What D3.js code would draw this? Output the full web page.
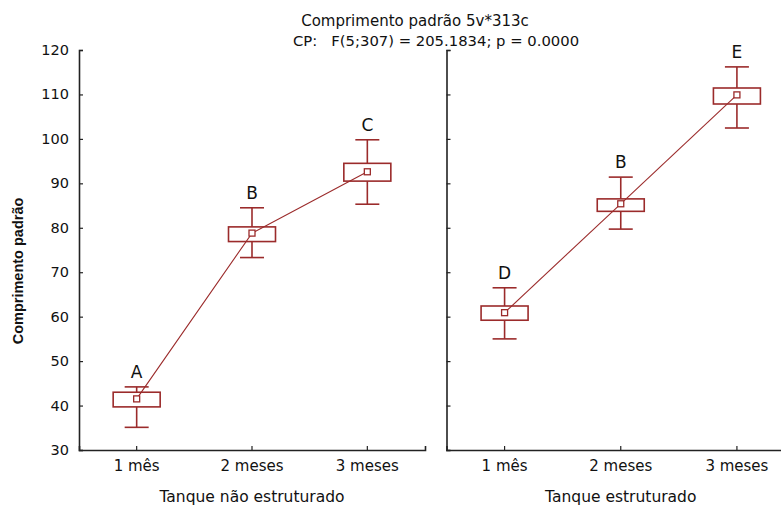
<!DOCTYPE html>
<html>
<head>
<meta charset="utf-8">
<script src="https://cdn.jsdelivr.net/npm/d3@7.9.0/dist/d3.min.js"></script>
<style>
  body { margin: 0; background: #fff; }
  svg { display: block; }
  text { font-family: "DejaVu Sans", sans-serif; fill: #111; }
</style>
</head>
<body>
<svg id="chart" width="781" height="506"></svg>
<script>
// data
const panels = ['Tanque não estruturado', 'Tanque estruturado'];
const months = ['1 mês', '2 meses', '3 meses'];
const means = [[41.5, 78.8, 92.6], [60.9, 85.4, 109.9]];
const boxLow = [[39.7, 76.9, 90.5], [59.2, 83.7, 107.85]];
const boxHigh = [[43.0, 80.2, 94.5], [62.4, 86.5, 111.45]];
const whiskLow = [[35.1, 73.3, 85.3], [55.0, 79.7, 102.45]];
const whiskHigh = [[44.2, 84.5, 99.8], [66.5, 91.4, 116.2]];
const letters = [['A', 'B', 'C'], ['D', 'B', 'E']];
const yTicks = [30, 40, 50, 60, 70, 80, 90, 100, 110, 120];

const red = '#9b2b2b';
const svg = d3.select('#chart');

const y = d3.scaleLinear().domain([30, 120]).range([450, 50]);
const xRanges = [[79, 425], [446.5, 795]];

panels.forEach((name, p) => {
  const x = d3.scaleBand().domain(months).range(xRanges[p]);
  const g = svg.append('g');

  // axes
  const yAxis = d3.axisRight(y).tickValues(yTicks).tickSize(4).tickFormat('');
  const ga = g.append('g').attr('transform', `translate(${xRanges[p][0]},0)`).call(yAxis);
  const xAxis = d3.axisTop(x).tickSize(4).tickFormat('');
  const gx = g.append('g').attr('transform', 'translate(0,450)').call(xAxis);
  [ga, gx].forEach(a => {
    a.select('.domain').attr('stroke', '#222').attr('stroke-width', 1.6);
    a.selectAll('.tick line').attr('stroke', '#222').attr('stroke-width', 1.2);
  });

  if (p === 0) {
    g.selectAll('.ylab').data(yTicks).enter().append('text')
      .attr('x', 69).attr('y', d => y(d) + 5)
      .attr('text-anchor', 'end').attr('font-size', 14.5)
      .text(d => d);
  }

  g.selectAll('.xlab').data(months).enter().append('text')
    .attr('x', d => x(d) + x.bandwidth() / 2).attr('y', 471)
    .attr('text-anchor', 'middle').attr('font-size', 15)
    .text(d => d);

  g.append('text')
    .attr('x', x(months[1]) + x.bandwidth() / 2).attr('y', 502)
    .attr('text-anchor', 'middle').attr('font-size', 15.5)
    .text(name);

  const cx = i => x(months[i]) + x.bandwidth() / 2;

  // line through the means
  const line = d3.line().x((d, i) => cx(i)).y(d => y(d));
  g.append('path').attr('d', line(means[p]))
    .attr('fill', 'none').attr('stroke', red).attr('stroke-width', 1.1);

  months.forEach((m, i) => {
    const c = cx(i);
    const bw = 47, cw = 24;
    // whiskers
    g.append('line').attr('x1', c).attr('x2', c)
      .attr('y1', y(whiskHigh[p][i])).attr('y2', y(boxHigh[p][i]))
      .attr('stroke', red).attr('stroke-width', 1.6);
    g.append('line').attr('x1', c).attr('x2', c)
      .attr('y1', y(boxLow[p][i])).attr('y2', y(whiskLow[p][i]))
      .attr('stroke', red).attr('stroke-width', 1.6);
    [whiskHigh[p][i], whiskLow[p][i]].forEach(v => {
      g.append('line').attr('x1', c - cw / 2).attr('x2', c + cw / 2)
        .attr('y1', y(v)).attr('y2', y(v))
        .attr('stroke', red).attr('stroke-width', 1.6);
    });
    // box
    g.append('rect').attr('x', c - bw / 2).attr('width', bw)
      .attr('y', y(boxHigh[p][i])).attr('height', y(boxLow[p][i]) - y(boxHigh[p][i]))
      .attr('fill', 'none').attr('stroke', red).attr('stroke-width', 1.6);
    // mean marker
    g.append('rect').attr('x', c - 3).attr('y', y(means[p][i]) - 3)
      .attr('width', 6).attr('height', 6)
      .attr('fill', '#fff').attr('stroke', red).attr('stroke-width', 1.3);
    // letter
    g.append('text').attr('x', c).attr('y', y(whiskHigh[p][i]) - 9)
      .attr('text-anchor', 'middle').attr('font-size', 17)
      .text(letters[p][i]);
  });
});

// title
svg.append('text').attr('x', 415).attr('y', 26)
  .attr('text-anchor', 'middle').attr('font-size', 15)
  .text('Comprimento padrão 5v*313c');
svg.append('text').attr('x', 436).attr('y', 46)
  .attr('text-anchor', 'middle').attr('font-size', 14.8)
  .attr('xml:space', 'preserve').style('white-space', 'pre')
  .text('CP:   F(5;307) = 205.1834; p = 0.0000');

// y axis title
svg.append('text')
  .attr('transform', 'translate(23,271) rotate(-90)')
  .attr('text-anchor', 'middle').attr('font-size', 14.5)
  .attr('font-weight', 'bold')
  .style('font-family', '"Liberation Sans", Arial, sans-serif')
  .text('Comprimento padrão');
</script>
</body>
</html>
